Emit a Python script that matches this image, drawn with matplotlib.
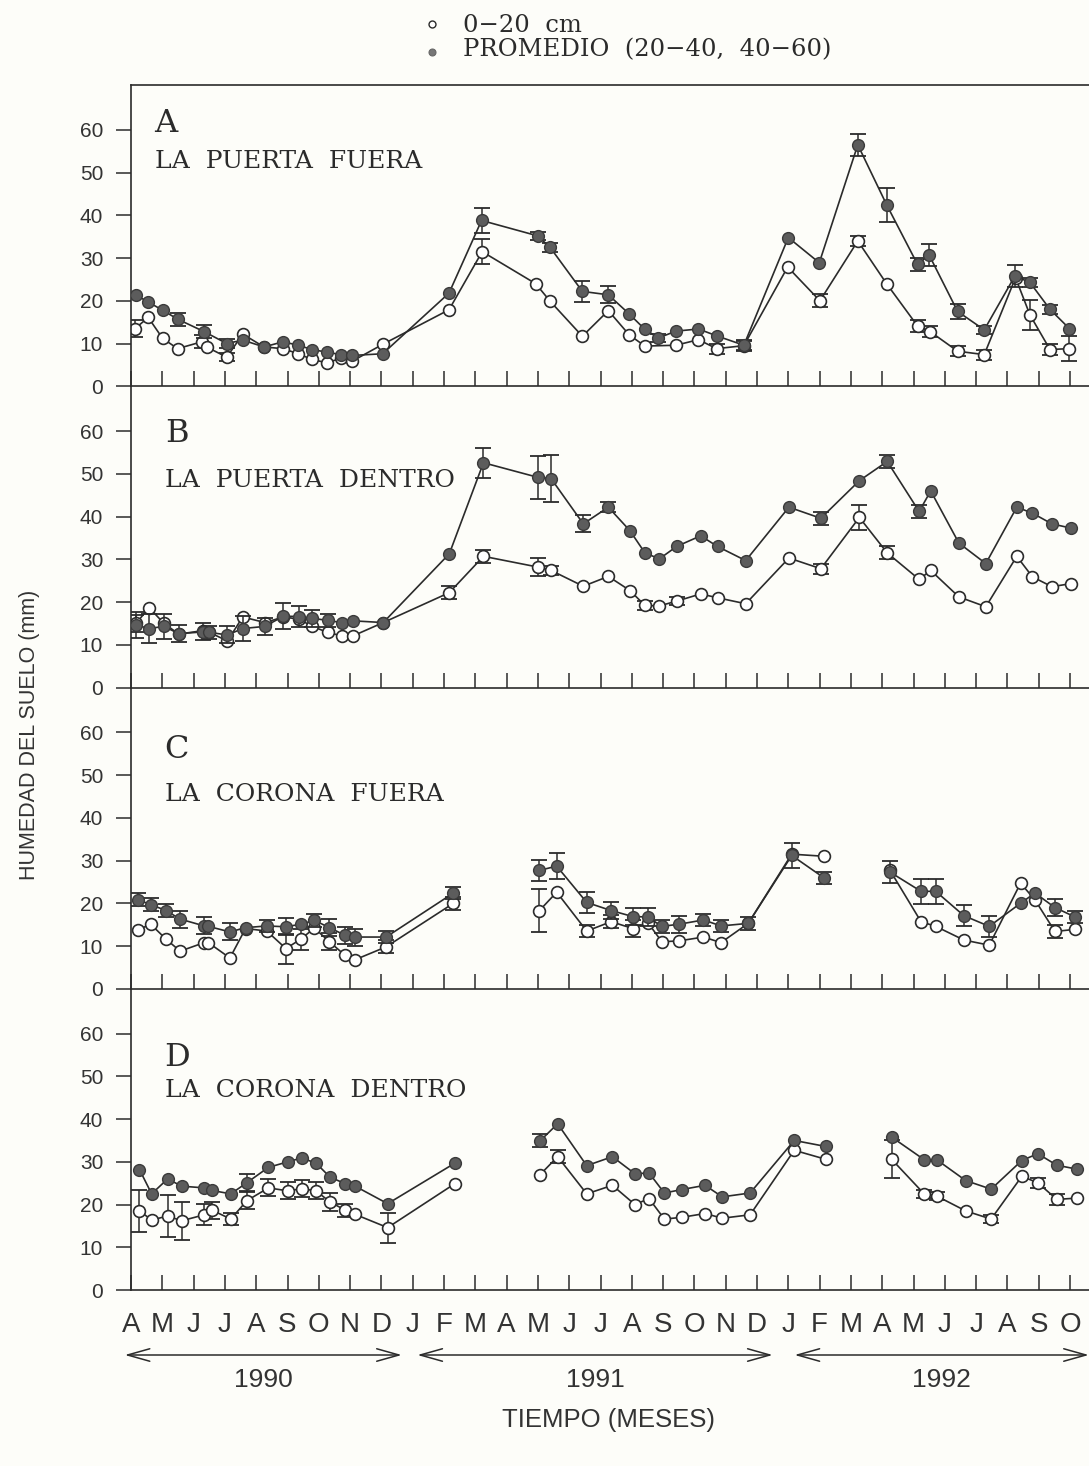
import numpy as np
import matplotlib.pyplot as plt
from matplotlib import transforms

nan = np.nan

# month labels along the time axis (Apr 1990 .. Oct 1992), one per tick
months = ['A', 'M', 'J', 'J', 'A', 'S', 'O', 'N', 'D',
          'J', 'F', 'M', 'A', 'M', 'J', 'J', 'A', 'S', 'O', 'N', 'D',
          'J', 'F', 'M', 'A', 'M', 'J', 'J', 'A', 'S', 'O']
years = ['1990', '1991', '1992']
# month-index extent covered by each year arrow
year_spans = [(-0.2, 8.65), (9.15, 20.5), (21.2, 30.6)]

panel_letters = ['A', 'B', 'C', 'D']
panel_names = ['LA  PUERTA  FUERA', 'LA  PUERTA  DENTRO', 'LA  CORONA  FUERA', 'LA  CORONA  DENTRO']

# ---- A: La Puerta fuera ----
xo_a = [0.13, 0.55, 1.01, 1.49, 2.26, 2.44, 3.06, 3.57, 4.25, 4.85, 5.35, 5.77, 6.25, 6.70, 7.05, 8.04,
        10.16, 11.22, 12.93, 13.39, 14.42, 15.25, 15.92, 16.42, 17.41, 18.13, 18.71, 19.58,
        20.98, 22.01, 23.22, 24.14, 25.13, 25.53, 26.41, 27.26, 28.26, 28.72, 29.36, 29.98]
yo_a = [13.5, 16.1, 11.2, 8.8, 10.4, 9.1, 6.8, 12.2, 9.2, 8.8, 7.6, 6.3, 5.5, 6.5, 5.8, 9.8,
        17.9, 31.5, 24.0, 19.9, 11.7, 17.7, 12.0, 9.4, 9.6, 10.9, 8.8, 9.5,
        27.9, 20.0, 34.0, 24.0, 14.1, 12.8, 8.2, 7.4, 25.4, 16.7, 8.6, 8.8]
eo_a = [2, 0, 0, 0, 1.5, 0, 1, 0, 0, 0, 0, 0, 0, 0, 0, 0,
        0, 3, 0, 0, 0, 0, 0, 0, 0, 0, 1.2, 1.2,
        0, 1.5, 1.2, 0, 1.3, 1.3, 1.2, 1.2, 0, 3.5, 1.2, 3]
xf_a = [0.15, 0.55, 1.01, 1.49, 2.33, 3.06, 3.57, 4.25, 4.85, 5.35, 5.77, 6.25, 6.70, 7.05, 8.04,
        10.16, 11.2, 12.99, 13.39, 14.42, 15.25, 15.92, 16.42, 16.85, 17.41, 18.13, 18.71, 19.58,
        21.0, 21.99, 23.22, 24.14, 25.13, 25.5, 26.41, 27.26, 28.24, 28.72, 29.36, 29.98]
yf_a = [21.4, 19.7, 17.8, 15.7, 12.8, 10.0, 10.8, 9.2, 10.4, 9.6, 8.6, 8.0, 7.4, 7.2, 7.6,
        21.8, 38.8, 35.2, 32.5, 22.2, 21.4, 16.9, 13.3, 11.3, 12.9, 13.4, 11.8, 9.6,
        34.8, 28.9, 56.5, 42.5, 28.5, 30.7, 17.5, 13.2, 25.8, 24.3, 18.0, 13.5]
ef_a = [0, 0, 0, 1.5, 1.5, 1, 0, 0, 0, 0, 0, 0, 0, 0, 0,
        0, 3, 1, 1, 2.5, 2, 0, 0, 1, 0, 0, 0, 1.2,
        0, 0, 2.5, 4, 1.5, 2.5, 1.8, 1, 2.5, 1, 1, 0]

# ---- B: La Puerta dentro ----
x_b = [0.16, 0.58, 1.05, 1.53, 2.29, 2.5, 3.08, 3.57, 4.28, 4.87, 5.37, 5.79, 6.28, 6.73, 7.1, 8.06,
       10.17, 11.26, 12.99, 13.42, 14.45, 15.25, 15.94, 16.42, 16.88, 17.43, 18.2, 18.74, 19.64,
       21.02, 22.04, 23.27, 24.16, 25.18, 25.55, 26.45, 27.31, 28.3, 28.8, 29.42, 30.03]
yo_b = [15.0, 18.7, 15.0, 12.5, 13.3, 12.9, 10.9, 16.5, 15.2, 16.5, 16.0, 14.3, 12.9, 12.1, 12.1, 15.2,
        22.2, 30.7, 28.2, 27.4, 23.7, 26.0, 22.7, 19.2, 19.1, 20.2, 21.9, 21.0, 19.6,
        30.3, 27.8, 39.8, 31.5, 25.3, 27.4, 21.2, 18.9, 30.7, 25.9, 23.6, 24.3]
eo_b = [2, 0, 0, 0, 0, 0, 0, 0, 0, 0, 0, 0, 0, 0, 0, 0,
        1.5, 1.5, 2, 1, 0, 0, 0, 1, 0, 1, 0, 0, 0,
        0, 1.2, 3, 1.5, 0, 0, 0, 0, 0, 0, 0, 0]
yf_b = [14.6, 13.8, 14.3, 12.6, 13.0, 12.9, 12.3, 13.8, 14.3, 16.7, 16.6, 16.2, 15.7, 15.2, 15.6, 15.2,
        31.3, 52.6, 49.2, 48.9, 38.3, 42.2, 36.7, 31.5, 30.1, 33.0, 35.5, 33.0, 29.7,
        42.2, 39.6, 48.4, 52.9, 41.2, 46.0, 33.8, 29.0, 42.2, 40.8, 38.3, 37.3]
ef_b = [3, 3.5, 3, 2, 2, 1.5, 2, 3, 2, 3, 2.5, 2, 1.5, 0, 0, 0,
        0, 3.5, 5, 5.5, 2, 1.2, 0, 0, 0, 0, 0, 0, 0,
        0, 1.5, 0, 1.5, 1.5, 0, 0, 0, 0, 0, 0, 0]

# ---- C: La Corona fuera (no samples Mar-Apr 1991 and Mar 1992) ----
x_c = [0.23, 0.63, 1.12, 1.57, 2.34, 2.47, 3.16, 3.66, 4.34, 4.95, 5.42, 5.86, 6.34, 6.84, 7.16, 8.15, 10.30,
       nan,
       13.05, 13.6, 14.56, 15.34, 16.03, 16.51, 16.96, 17.51, 18.29, 18.85, 19.72, 21.11, 22.15,
       nan,
       24.25, 25.24, 25.71, 26.61, 27.42, 28.42, 28.88, 29.52, 30.16]
yo_c = [13.8, 15.1, 11.6, 8.8, 10.8, 10.8, 7.2, 14.1, 13.5, 9.4, 11.6, 14.2, 11.0, 7.8, 6.8, 9.8, 20.0,
        nan,
        18.3, 22.6, 13.5, 15.7, 14.1, 15.5, 11.0, 11.2, 12.1, 10.8, 15.3, 31.5, 31.0,
        nan,
        27.7, 15.7, 14.6, 11.4, 10.2, 24.7, 20.8, 13.4, 13.9]
eo_c = [0, 0, 0, 0, 0, 0, 0, 0, 0, 3.5, 2.5, 0, 2, 0, 0, 1.5, 1.5,
        0,
        5, 0, 1.5, 1.5, 2, 0, 0, 0, 0, 0, 0, 0, 0,
        0,
        0, 0, 0, 0, 0, 0, 0, 1.5, 0]
yf_c = [20.8, 19.7, 18.3, 16.3, 14.7, 14.6, 13.3, 14.3, 14.7, 14.5, 15.1, 16.0, 14.3, 12.5, 12.1, 12.1, 22.4,
        nan,
        27.7, 28.7, 20.2, 18.3, 16.9, 16.8, 14.6, 15.1, 16.1, 14.7, 15.3, 31.2, 25.9,
        nan,
        27.3, 22.8, 22.8, 17.1, 14.6, 20.0, 22.4, 19.0, 16.8]
ef_c = [1.5, 1.5, 1.5, 2, 2, 0, 2, 0, 1.5, 2, 0, 1.5, 2, 2, 2, 1.5, 1.5,
        0,
        2.5, 3, 2.5, 2, 2, 2, 1.5, 2, 1.5, 1.5, 1.5, 3, 1.5,
        0,
        2.5, 3, 3, 2.5, 2.5, 0, 0, 2, 1.5]

# ---- D: La Corona dentro ----
x_d = [0.27, 0.66, 1.17, 1.62, 2.34, 2.58, 3.19, 3.70, 4.39, 5.01, 5.45, 5.91, 6.36, 6.84, 7.16, 8.20, 10.35,
       nan,
       13.07, 13.63, 14.56, 15.38, 16.1, 16.55, 17.04, 17.59, 18.34, 18.89, 19.78, 21.19, 22.19,
       nan,
       24.30, 25.34, 25.74, 26.67, 27.48, 28.46, 28.97, 29.58, 30.21]
yo_d = [18.5, 16.4, 17.3, 16.2, 17.6, 18.7, 16.6, 20.9, 23.9, 23.2, 23.7, 23.2, 20.6, 18.7, 17.7, 14.6, 24.9,
        nan,
        27.0, 31.2, 22.5, 24.5, 20.0, 21.4, 16.6, 17.0, 17.9, 16.8, 17.6, 32.7, 30.6,
        nan,
        30.6, 22.5, 22.0, 18.5, 16.6, 26.6, 25.1, 21.2, 21.5]
eo_d = [5, 0, 5, 4.5, 2.5, 2, 1.5, 2, 2, 2, 2, 2, 2, 1.5, 0, 3.5, 0,
        0,
        0, 1.5, 0, 0, 0, 0, 0, 0, 0, 0, 0, 0, 0,
        0,
        4.5, 1, 1, 0, 1, 0, 1.2, 1.2, 0]
yf_d = [28.2, 22.5, 26.0, 24.3, 23.9, 23.3, 22.5, 25.1, 28.7, 30.0, 30.9, 29.7, 26.4, 24.9, 24.3, 20.2, 29.7,
        nan,
        34.9, 38.9, 29.1, 31.2, 27.2, 27.4, 22.7, 23.5, 24.5, 21.8, 22.7, 35.0, 33.6,
        nan,
        35.8, 30.5, 30.5, 25.6, 23.6, 30.3, 31.9, 29.2, 28.3]
ef_d = [0, 0, 0, 0, 0, 0, 0, 2, 0, 0, 0, 0, 0, 0, 0, 0, 0,
        0,
        1.5, 0, 0, 0, 0, 0, 0, 0, 0, 0, 0, 0, 0,
        0,
        0, 0, 0, 0, 0, 0, 0, 0, 0]

panels = [
    (xo_a, yo_a, eo_a, xf_a, yf_a, ef_a),
    (x_b, yo_b, eo_b, x_b, yf_b, ef_b),
    (x_c, yo_c, eo_c, x_c, yf_c, ef_c),
    (x_d, yo_d, eo_d, x_d, yf_d, ef_d),
]

# where the letter / site name sit inside each panel (data units)
letter_pos = [(0.75, 59.4), (1.08, 57.5), (1.05, 54.1), (1.05, 52.5)]
name_pos = [(0.77, 51.1), (1.08, 47.0), (1.08, 43.9), (1.08, 45.2)]

INK = '#2b2b2b'
FILL = '#5c5c5c'
BG = '#fdfdf9'
SERIF = 'DejaVu Serif'
SANS = 'Liberation Sans'

W, H = 1089, 1466
fig = plt.figure(figsize=(W / 100, H / 100), dpi=100, facecolor=BG)

left_px = 131
px_per_month = 31.3
xmax = 31.5
top_px, bottom_px = 85, 1290
panel_h = (bottom_px - top_px) / 4

axes = []
for i, (xo, yo, eo, xf, yf, ef) in enumerate(panels):
    y0 = top_px + i * panel_h
    ax = fig.add_axes([left_px / W, 1 - (y0 + panel_h) / H,
                       xmax * px_per_month / W, panel_h / H])
    ax.set_facecolor('none')
    axes.append(ax)

    xo, yo, eo = np.array(xo), np.array(yo), np.array(eo)
    xf, yf, ef = np.array(xf), np.array(yf), np.array(ef)

    # open circles: 0-20 cm
    m = eo > 0
    ax.errorbar(xo[m], yo[m], yerr=eo[m], fmt='none', ecolor=INK, elinewidth=1.1,
                capsize=6, capthick=1.3, zorder=1)
    ax.plot(xo, yo, '-o', color=INK, lw=1.2, ms=8.5, mfc='white', mec=INK, mew=1.2, zorder=2)

    # filled circles: mean of 20-40 and 40-60 cm
    m = ef > 0
    ax.errorbar(xf[m], yf[m], yerr=ef[m], fmt='none', ecolor=INK, elinewidth=1.1,
                capsize=6, capthick=1.3, zorder=3)
    ax.plot(xf, yf, '-o', color=INK, lw=1.2, ms=8.5, mfc=FILL, mec='#3a3a3a', mew=1.0, zorder=4)

    ax.set_xlim(0, xmax)
    ax.set_ylim(0, 70.5)
    ax.set_yticks(range(0, 61, 10))
    ax.set_xticks(range(len(months)))

    for side in ['top', 'right']:
        ax.spines[side].set_visible(False)
    if i == 0:
        ax.spines['top'].set_visible(True)
    for side in ['left', 'bottom', 'top']:
        ax.spines[side].set_color(INK)
        ax.spines[side].set_linewidth(1.2)

    ax.tick_params(axis='y', direction='out', length=11, width=1.1, color=INK,
                   pad=9, labelsize=15, labelcolor='#333333')
    ax.tick_params(axis='x', direction='in', length=11, width=1.1, color=INK,
                   pad=16, labelsize=20, labelcolor='#333333')
    for lab in ax.get_yticklabels():
        lab.set_family(SANS)

    if i < 3:
        ax.set_xticklabels([])
    else:
        ax.set_xticklabels(months, family=SANS)

    lx, ly = letter_pos[i]
    ax.text(lx, ly, panel_letters[i], family=SERIF, fontsize=23, color=INK, va='baseline')
    nx, ny = name_pos[i]
    ax.text(nx, ny, panel_names[i], family=SERIF, fontsize=18, color=INK, va='baseline')

# year arrows under the month labels
ax = axes[-1]
tr = transforms.blended_transform_factory(ax.transData, fig.transFigure)
arrow_y = 1 - 1355 / H
label_y = 1 - 1380 / H
for year, (x0, x1) in zip(years, year_spans):
    ax.annotate('', xy=(x1, arrow_y), xytext=(x0, arrow_y), xycoords=tr, textcoords=tr,
                annotation_clip=False,
                arrowprops=dict(arrowstyle='<->,head_length=1.6,head_width=0.45',
                                color=INK, lw=1.1, shrinkA=0, shrinkB=0))
    ax.text((x0 + x1) / 2, label_y, year, transform=tr, ha='center', va='center',
            family=SANS, fontsize=19, color='#333333')

fig.text(608 / W, 1 - 1420 / H, 'TIEMPO (MESES)', ha='center', va='center',
         family=SANS, fontsize=18.5, color='#333333')
fig.text(30 / W, 1 - 735 / H, 'HUMEDAD DEL SUELO (mm)', ha='center', va='center',
         rotation=90, family=SANS, fontsize=15.5, color='#333333')

# legend at the top
fig.lines.append(plt.Line2D([432 / W], [1 - 24 / H], transform=fig.transFigure, marker='o',
                            ms=5, mfc='white', mec=INK, mew=1.0, ls='none'))
fig.lines.append(plt.Line2D([432 / W], [1 - 52 / H], transform=fig.transFigure, marker='o',
                            ms=5, mfc='#777777', mec='#666666', mew=0.8, ls='none'))
fig.text(463 / W, 1 - 32 / H, '0\u221220  cm', family=SERIF, fontsize=17.5, color=INK, va='baseline')
fig.text(463 / W, 1 - 56 / H, 'PROMEDIO  (20\u221240,  40\u221260)', family=SERIF, fontsize=17.5,
         color=INK, va='baseline')

fig.savefig('out.png', dpi=100, facecolor=BG)
